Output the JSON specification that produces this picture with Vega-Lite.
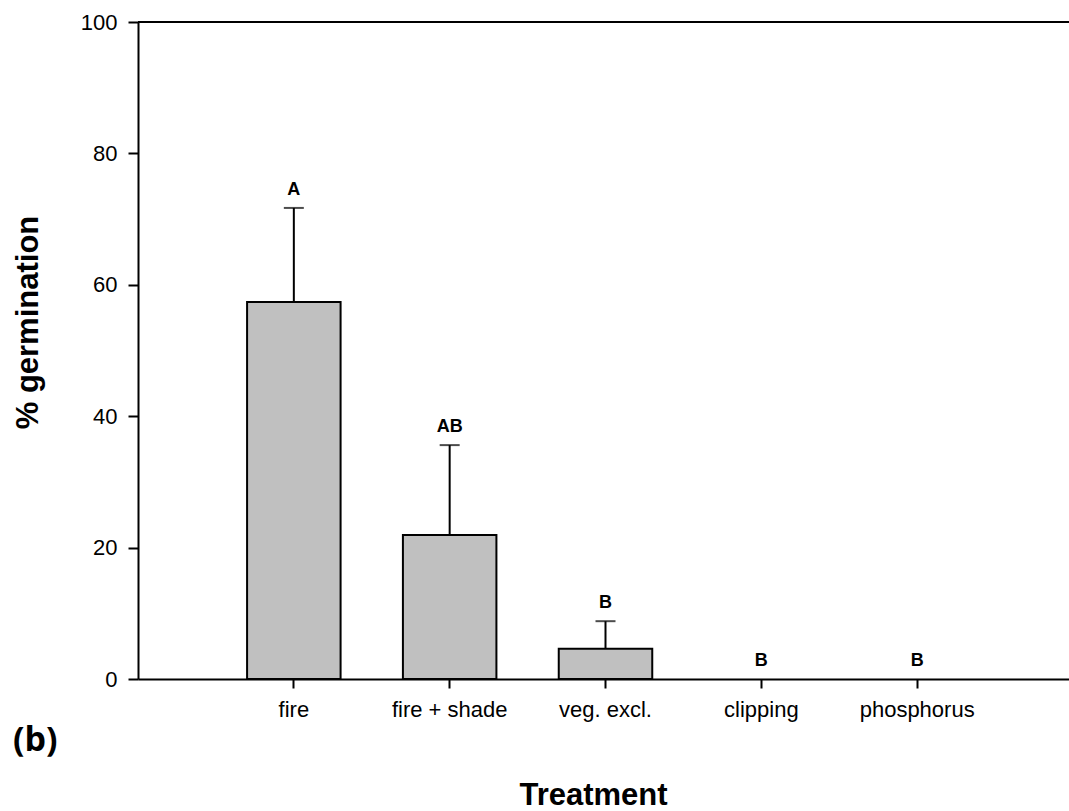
{
  "$schema": "https://vega.github.io/schema/vega-lite/v6.json",
  "width": 935,
  "height": 657,
  "autosize": "none",
  "padding": {"left": 138, "top": 22, "right": 0, "bottom": 132},
  "background": "white",
  "config": {
    "view": {"stroke": null},
    "font": "Liberation Sans",
    "axis": {
      "grid": false,
      "domainColor": "black",
      "domainWidth": 2,
      "tickColor": "black",
      "tickWidth": 2,
      "labelColor": "black",
      "labelFont": "Liberation Sans",
      "labelFontSize": 22,
      "titleColor": "black",
      "titleFont": "Liberation Sans",
      "titleFontWeight": "bold",
      "titleFontSize": 31
    }
  },
  "title": {
    "text": "(b)",
    "orient": "bottom",
    "anchor": "start",
    "frame": "group",
    "font": "Open Sans",
    "fontSize": 34,
    "fontWeight": "bold",
    "color": "black",
    "dx": -125,
    "offset": -86
  },
  "data": {
    "values": [
      {"Treatment": "fire", "mean": 57.4, "upper": 71.7, "se": 14.3, "letter": "A"},
      {"Treatment": "fire + shade", "mean": 21.9, "upper": 35.6, "se": 13.7, "letter": "AB"},
      {"Treatment": "veg. excl.", "mean": 4.6, "upper": 8.8, "se": 4.2, "letter": "B"},
      {"Treatment": "clipping", "mean": 0, "upper": 0, "se": 0, "letter": "B"},
      {"Treatment": "phosphorus", "mean": 0, "upper": 0, "se": 0, "letter": "B"}
    ]
  },
  "layer": [
    {
      "mark": {"type": "text", "color": "black", "fontWeight": "bold", "fontSize": 18, "baseline": "alphabetic", "dy": -13, "font": "Liberation Sans"},
      "encoding": {
        "x": {
          "field": "Treatment",
          "type": "nominal",
          "sort": null,
          "scale": {"paddingInner": 0.4, "paddingOuter": 0.7},
          "axis": {
            "labelAngle": 0,
            "tickSize": 9,
            "labelPadding": 11,
            "title": "Treatment",
            "titleX": 455,
            "titleY": 116,
            "titleBaseline": "middle",
            "titleAlign": "center"
          }
        },
        "y": {
          "field": "upper",
          "type": "quantitative",
          "scale": {"domain": [0, 100], "nice": false},
          "axis": {
            "values": [0, 20, 40, 60, 80, 100],
            "tickSize": 10,
            "labelPadding": 11,
            "title": "% germination",
            "titleAngle": 270,
            "titleX": -110,
            "titleY": 300,
            "titleBaseline": "middle",
            "titleAlign": "center"
          }
        },
        "text": {"field": "letter"}
      }
    },
    {
      "transform": [{"filter": "datum.mean > 0"}],
      "mark": {"type": "bar", "fill": "#c0c0c0", "stroke": "black", "strokeWidth": 2},
      "encoding": {
        "x": {"field": "Treatment", "type": "nominal", "sort": null},
        "y": {"field": "mean", "type": "quantitative"}
      }
    },
    {
      "transform": [{"filter": "datum.se > 0"}],
      "mark": {"type": "rule", "color": "black", "strokeWidth": 2},
      "encoding": {
        "x": {"field": "Treatment", "type": "nominal", "sort": null},
        "y": {"field": "mean", "type": "quantitative"},
        "y2": {"field": "upper"}
      }
    },
    {
      "transform": [{"filter": "datum.se > 0"}],
      "mark": {"type": "tick", "color": "black", "size": 20, "thickness": 2},
      "encoding": {
        "x": {"field": "Treatment", "type": "nominal", "sort": null},
        "y": {"field": "upper", "type": "quantitative"}
      }
    },
    {
      "data": {"values": [{}]},
      "mark": {"type": "rule", "color": "black", "strokeWidth": 2},
      "encoding": {
        "y": {"datum": 100, "type": "quantitative"}
      }
    }
  ]
}
